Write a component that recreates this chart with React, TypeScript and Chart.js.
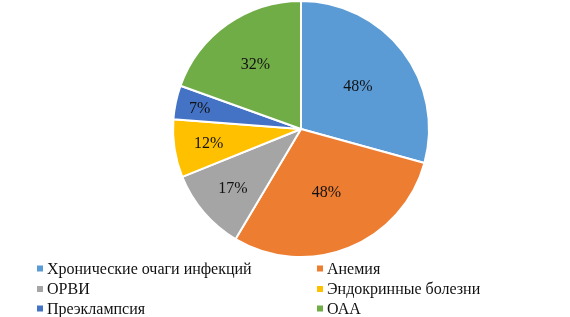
import React, { useEffect, useRef } from "react";
import { Chart, registerables } from "chart.js";

Chart.register(...registerables);

const categories = [
  "Хронические очаги инфекций",
  "Анемия",
  "ОРВИ",
  "Эндокринные болезни",
  "Преэклампсия",
  "ОАА",
];
const values = [48, 48, 17, 12, 7, 32];
const valueLabels = ["48%", "48%", "17%", "12%", "7%", "32%"];
const colors = ["#5B9BD5", "#ED7D31", "#A5A5A5", "#FFC000", "#4472C4", "#70AD47"];
// label placement as fraction of the radius (Excel "best fit")
const labelRadiusFrac = [0.56, 0.53, 0.7, 0.73, 0.81, 0.62];

const FONT = '"Liberation Serif", "Times New Roman", serif';

const labelPlugin = {
  id: "sliceLabels",
  afterDatasetsDraw(chart: any) {
    const ctx = chart.ctx;
    const meta = chart.getDatasetMeta(0);
    ctx.save();
    ctx.font = `16px ${FONT}`;
    ctx.fillStyle = "#111";
    ctx.textAlign = "center";
    ctx.textBaseline = "middle";
    meta.data.forEach((arc: any, i: number) => {
      const p = arc.getProps(["x", "y", "startAngle", "endAngle", "outerRadius"], true);
      const mid = (p.startAngle + p.endAngle) / 2;
      const r = p.outerRadius * labelRadiusFrac[i];
      ctx.fillText(valueLabels[i], p.x + Math.cos(mid) * r, p.y + Math.sin(mid) * r + 1);
    });
    ctx.restore();
  },
};

const legendPlugin = {
  id: "twoColLegend",
  afterDraw(chart: any) {
    const ctx = chart.ctx;
    ctx.save();
    ctx.font = `16px ${FONT}`;
    ctx.textBaseline = "middle";
    ctx.textAlign = "left";
    const colX = [37, 317];
    const rowY = [268.5, 289, 308.5];
    categories.forEach((c, i) => {
      const col = i % 2;
      const row = Math.floor(i / 2);
      const x = colX[col];
      const y = rowY[row];
      ctx.fillStyle = colors[i];
      ctx.fillRect(x, y - 3, 6, 6);
      ctx.fillStyle = "#111";
      ctx.fillText(c, x + 10, y + 1);
    });
    ctx.restore();
  },
};

export default function App() {
  const ref = useRef<HTMLCanvasElement | null>(null);
  useEffect(() => {
    if (!ref.current) return;
    const chart = new Chart(ref.current, {
      type: "pie",
      data: {
        labels: categories,
        datasets: [
          {
            data: values,
            backgroundColor: colors,
            borderColor: "#ffffff",
            borderWidth: 2,
          },
        ],
      },
      options: {
        animation: false,
        responsive: false,
        radius: 128,
        layout: { padding: { left: 32, right: 0, top: 0, bottom: 59 } },
        plugins: {
          legend: { display: false },
          tooltip: { enabled: false },
        },
      } as any,
      plugins: [labelPlugin, legendPlugin],
    });
    return () => chart.destroy();
  }, []);
  return (
    <div style={{ position: "fixed", left: 0, top: 0, width: 570, height: 317, background: "#fff" }}>
      <canvas ref={ref} width={570} height={317} style={{ display: "block" }} />
    </div>
  );
}
